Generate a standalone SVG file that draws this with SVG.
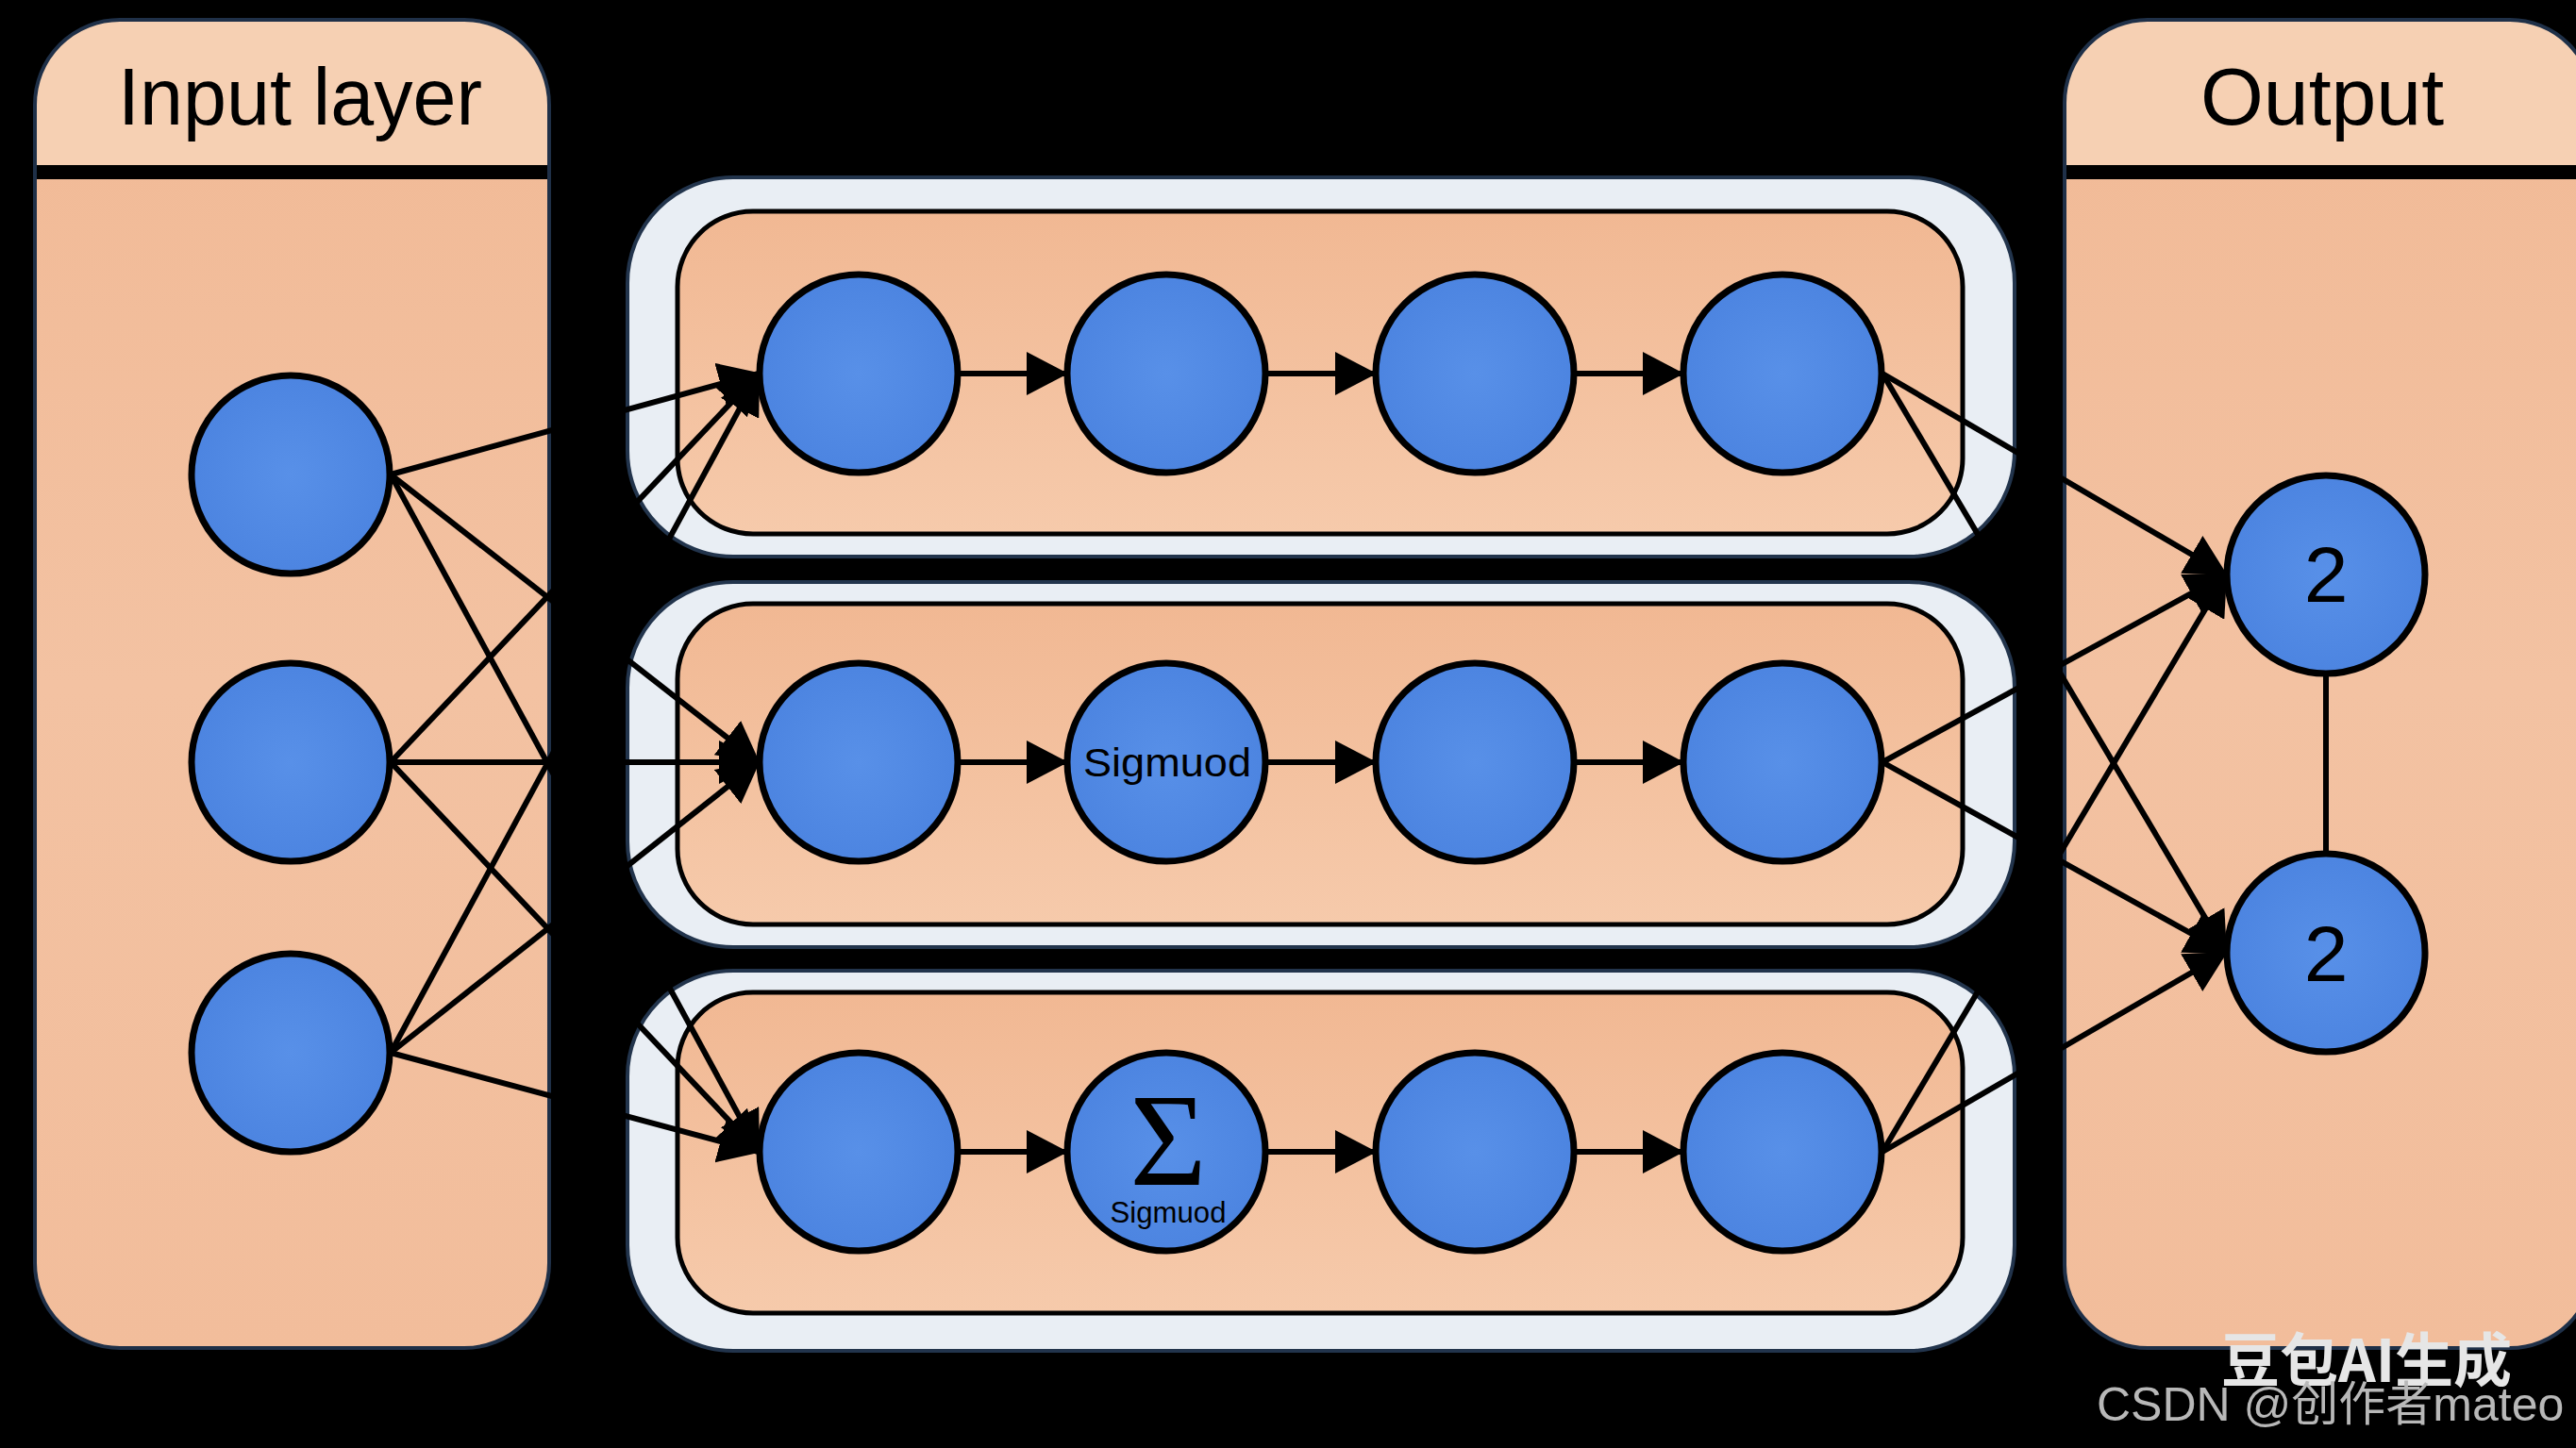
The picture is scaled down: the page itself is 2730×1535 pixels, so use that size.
<svg xmlns="http://www.w3.org/2000/svg" width="2730" height="1535" viewBox="0 0 2730 1535">
<defs>
<style>
.lbl{font-family:"Liberation Sans",Arial,sans-serif;fill:#000}
.node{fill:url(#blue);stroke:#000;stroke-width:7}
.outer{fill:#e9eef4;stroke:#22344c;stroke-width:4}
.inner{fill:url(#orange);stroke:#000;stroke-width:5}
.cn{stroke:#000;stroke-width:6;fill:none}
.arr{marker-end:url(#ah)}
</style>
<linearGradient id="orange" x1="0" y1="0" x2="0" y2="1">
<stop offset="0" stop-color="#f1b893"/>
<stop offset="1" stop-color="#f6caab"/>
</linearGradient>
<linearGradient id="panelBody" x1="0" y1="0" x2="0" y2="1">
<stop offset="0" stop-color="#f1b995"/>
<stop offset="0.5" stop-color="#f3c2a2"/>
<stop offset="1" stop-color="#f2bd9b"/>
</linearGradient>
<radialGradient id="blue" cx="0.5" cy="0.5" r="0.6">
<stop offset="0" stop-color="#5890e8"/>
<stop offset="1" stop-color="#4a82df"/>
</radialGradient>
<marker id="ah" viewBox="0 0 44 46" refX="42" refY="23" markerWidth="44" markerHeight="46" markerUnits="userSpaceOnUse" orient="auto">
<path d="M0,0 L44,23 L0,46 Z" fill="#000"/>
</marker>
</defs>
<rect width="2730" height="1535" fill="#000"/>

<g id="input-layer">
<rect x="37" y="21" width="545" height="1408" rx="90" fill="url(#panelBody)"/>
<path d="M37,183 V111 A90,90 0 0 1 127,21 H492 A90,90 0 0 1 582,111 V183 Z" fill="#f6d0b3"/>
<rect x="37" y="175" width="545" height="15" fill="#000"/>
<rect x="37" y="21" width="545" height="1408" rx="90" fill="none" stroke="#1f3048" stroke-width="4"/>
<text class="lbl" x="318" y="132" font-size="86" text-anchor="middle" textLength="386" lengthAdjust="spacingAndGlyphs">Input layer</text>
</g>

<g id="output-layer">
<rect x="2188" y="21" width="560" height="1408" rx="88" fill="url(#panelBody)"/>
<path d="M2188,183 V109 A88,88 0 0 1 2276,21 H2660 A88,88 0 0 1 2748,109 V183 Z" fill="#f6d0b3"/>
<rect x="2188" y="175" width="560" height="15" fill="#000"/>
<rect x="2188" y="21" width="560" height="1408" rx="88" fill="none" stroke="#1f3048" stroke-width="4"/>
<text class="lbl" x="2461" y="132" font-size="86" text-anchor="middle">Output</text>
</g>

<g id="row-1">
<rect class="outer" x="665" y="188" width="1470" height="402" rx="112"/>
<rect class="inner" x="718" y="224" width="1362" height="342" rx="80"/>
</g>
<g id="row-2">
<rect class="outer" x="665" y="617" width="1470" height="387" rx="112"/>
<rect class="inner" x="718" y="640" width="1362" height="340" rx="80"/>
</g>
<g id="row-3">
<rect class="outer" x="665" y="1029" width="1470" height="403" rx="112"/>
<rect class="inner" x="718" y="1052" width="1362" height="340" rx="80"/>
</g>

<g id="connectors">
<line class="cn arr" x1="414" y1="503" x2="804" y2="396"/>
<line class="cn arr" x1="414" y1="503" x2="804" y2="808"/>
<line class="cn arr" x1="414" y1="503" x2="804" y2="1221"/>
<line class="cn arr" x1="414" y1="808" x2="804" y2="396"/>
<line class="cn arr" x1="414" y1="808" x2="804" y2="808"/>
<line class="cn arr" x1="414" y1="808" x2="804" y2="1221"/>
<line class="cn arr" x1="414" y1="1116" x2="804" y2="396"/>
<line class="cn arr" x1="414" y1="1116" x2="804" y2="808"/>
<line class="cn arr" x1="414" y1="1116" x2="804" y2="1221"/>
<line class="cn arr" x1="1016" y1="396" x2="1130" y2="396"/>
<line class="cn arr" x1="1342" y1="396" x2="1457" y2="396"/>
<line class="cn arr" x1="1669" y1="396" x2="1783" y2="396"/>
<line class="cn arr" x1="1016" y1="808" x2="1130" y2="808"/>
<line class="cn arr" x1="1342" y1="808" x2="1457" y2="808"/>
<line class="cn arr" x1="1669" y1="808" x2="1783" y2="808"/>
<line class="cn arr" x1="1016" y1="1221" x2="1130" y2="1221"/>
<line class="cn arr" x1="1342" y1="1221" x2="1457" y2="1221"/>
<line class="cn arr" x1="1669" y1="1221" x2="1783" y2="1221"/>
<line class="cn arr" x1="1995" y1="396" x2="2359" y2="609"/>
<line class="cn arr" x1="1995" y1="396" x2="2359" y2="1010"/>
<line class="cn arr" x1="1995" y1="808" x2="2359" y2="609"/>
<line class="cn arr" x1="1995" y1="808" x2="2359" y2="1010"/>
<line class="cn arr" x1="1995" y1="1221" x2="2359" y2="609"/>
<line class="cn arr" x1="1995" y1="1221" x2="2359" y2="1010"/>
<line class="cn" x1="2465" y1="714" x2="2465" y2="905"/>
</g>

<g id="in-1"><circle class="node" cx="308" cy="503" r="105"/></g>
<g id="in-2"><circle class="node" cx="308" cy="808" r="105"/></g>
<g id="in-3"><circle class="node" cx="308" cy="1116" r="105"/></g>

<g id="r1-n1"><circle class="node" cx="910" cy="396" r="105"/></g>
<g id="r1-n2"><circle class="node" cx="1236" cy="396" r="105"/></g>
<g id="r1-n3"><circle class="node" cx="1563" cy="396" r="105"/></g>
<g id="r1-n4"><circle class="node" cx="1889" cy="396" r="105"/></g>

<g id="r2-n1"><circle class="node" cx="910" cy="808" r="105"/></g>
<g id="r2-n2"><circle class="node" cx="1236" cy="808" r="105"/>
<text class="lbl" x="1237" y="823" font-size="43" text-anchor="middle" textLength="178" lengthAdjust="spacingAndGlyphs">Sigmuod</text></g>
<g id="r2-n3"><circle class="node" cx="1563" cy="808" r="105"/></g>
<g id="r2-n4"><circle class="node" cx="1889" cy="808" r="105"/></g>

<g id="r3-n1"><circle class="node" cx="910" cy="1221" r="105"/></g>
<g id="r3-n2"><circle class="node" cx="1236" cy="1221" r="105"/>
<text x="1238" y="1256" font-family="Liberation Serif,'Times New Roman',serif" font-size="140" text-anchor="middle" fill="#000">Σ</text>
<text class="lbl" x="1238" y="1296" font-size="32" text-anchor="middle" textLength="123" lengthAdjust="spacingAndGlyphs">Sigmuod</text></g>
<g id="r3-n3"><circle class="node" cx="1563" cy="1221" r="105"/></g>
<g id="r3-n4"><circle class="node" cx="1889" cy="1221" r="105"/></g>

<g id="out-1"><circle class="node" cx="2465" cy="609" r="105"/>
<text class="lbl" x="2465" y="638" font-size="84" text-anchor="middle">2</text></g>
<g id="out-2"><circle class="node" cx="2465" cy="1010" r="105"/>
<text class="lbl" x="2465" y="1040" font-size="84" text-anchor="middle">2</text></g>

<g id="watermark">
<text x="2508" y="1465" font-family="'Noto Sans CJK SC','Liberation Sans',sans-serif" font-weight="bold" font-size="62" fill="#e6e6e6" text-anchor="middle">豆包AI生成</text>
<text x="2222" y="1506" font-family="'Liberation Sans','Noto Sans CJK SC',sans-serif" font-size="50" fill="#b8b8b8">CSDN @创作者mateo</text>
</g>
</svg>
